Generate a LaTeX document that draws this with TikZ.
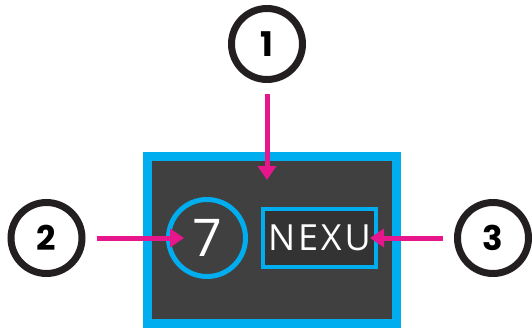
\documentclass[tikz,border=0pt]{standalone}
\usepackage{fontspec}
\usetikzlibrary{arrows.meta}
\setmainfont{Open Sans}
\newfontfamily\calloutfont{Poppins}
\newfontfamily\screenfont{Open Sans}[LetterSpace=8]
\definecolor{panelgrey}{HTML}{404040}
\definecolor{screengrey}{HTML}{333333}
\definecolor{framecyan}{HTML}{00AEEF}
\definecolor{pointerpink}{HTML}{E8168C}
\definecolor{calloutblack}{HTML}{231F20}

\begin{document}
\begin{tikzpicture}[
    x=1pt,y=-1pt,
    callout/.style={draw=calloutblack,line width=7pt,circle,minimum size=71pt,inner sep=0pt,
      font=\calloutfont\bfseries\fontsize{34}{34}\selectfont},
    pointer/.style={draw=pointerpink,line width=5pt,shorten <=11pt,
      -{Triangle[length=14pt,width=18pt]}},
  ]
  \useasboundingbox (0,0) rectangle (532,329);
  % Display panel
  \node[draw=framecyan,fill=panelgrey,line width=9pt,minimum width=249pt,
    minimum height=167pt,inner sep=0pt] (panel) at (272,240) {};
  \node[draw=framecyan,line width=5pt,circle,minimum size=77pt,inner sep=0pt,
    text=white,font=\fontsize{52}{52}\selectfont] (seven) at (207,238) {7};
  \node[draw=framecyan,fill=screengrey,line width=4pt,minimum width=113pt,
    minimum height=58pt,inner sep=0pt,text=white,
    font=\screenfont\fontsize{36}{36}\selectfont] (nexu) at (319.5,238) {NEXU};
  % Callouts
  \node[callout] (c1) at (267,44) {1};
  \node[callout] (c2) at (46.5,238) {2};
  \node[callout] (c3) at (493,238) {3};
  \coordinate (tip1) at (267,180);
  \coordinate (tip2) at (184,238);
  \coordinate (tip3) at (370,238);
  \draw[pointer] (c1) -- (tip1);
  \draw[pointer] (c2) -- (tip2);
  \draw[pointer] (c3) -- (tip3);
\end{tikzpicture}
\end{document}
